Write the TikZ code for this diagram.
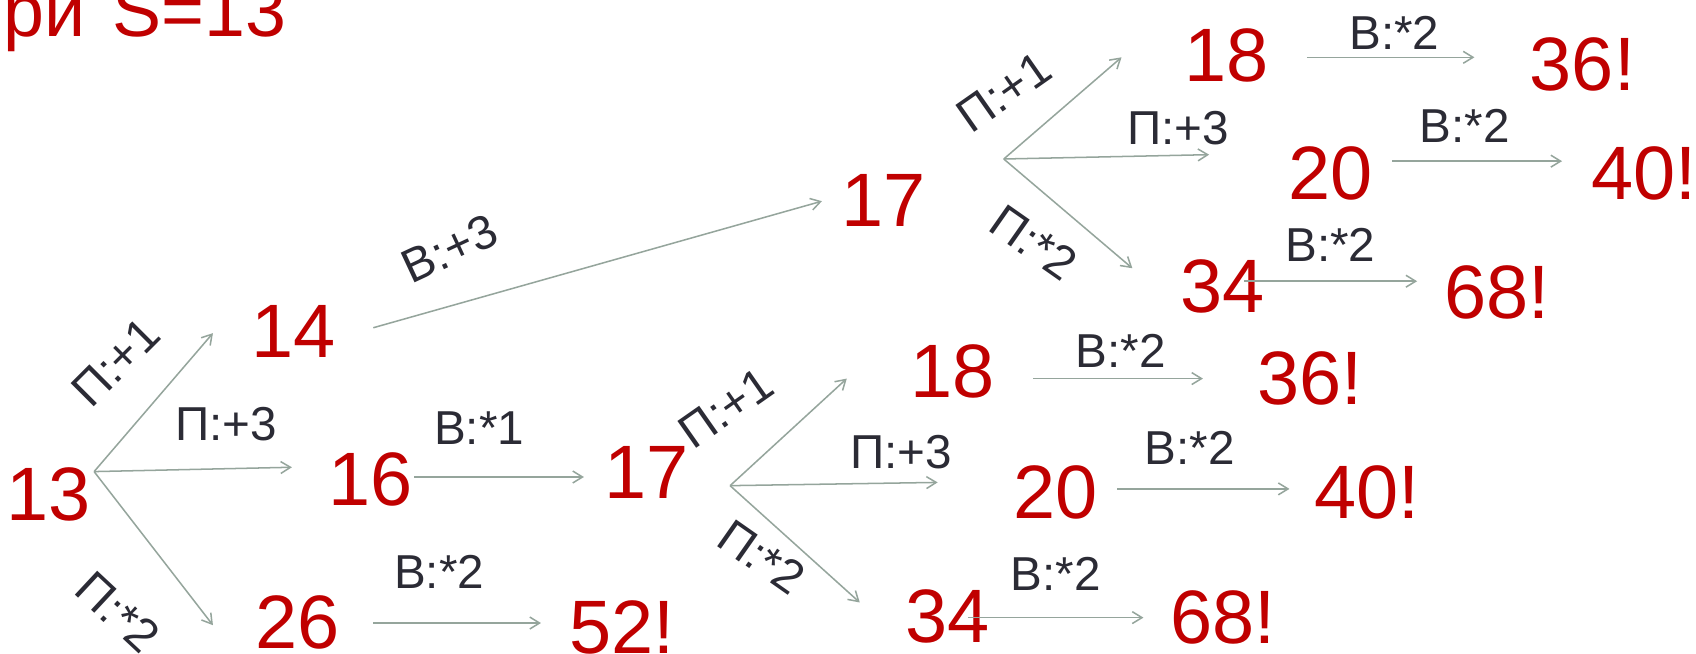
\documentclass[tikz,border=0pt]{standalone}
\usepackage{fontspec}
\setmainfont{Liberation Sans}
\definecolor{numRed}{HTML}{C00000}
\definecolor{labelInk}{HTML}{2B2B35}
\definecolor{arrowGrey}{HTML}{95A59C}
\usetikzlibrary{calc, arrows.meta}

\begin{document}
\begin{tikzpicture}[x=1pt, y=-1pt,
    num/.style={text=numRed, font=\fontsize{70}{70}\selectfont, inner sep=0pt},
    lbl/.style={text=labelInk, font=\fontsize{44}{44}\selectfont, inner sep=0pt},
    arr/.style={draw=arrowGrey, line width=1.4pt, -{Straight Barb[length=9pt, width=11pt]}}]
  \useasboundingbox[fill=white] (0,0) rectangle (1568,604);

  % title, cut at the left edge
  \node[num, anchor=base east, font=\fontsize{68}{68}\selectfont] (title) at (265,34) {при\hspace{6pt} S=13};

  % numbers
  \node[num] (n13)  at (45,457)   {13};
  \node[num] (n14)  at (271,306)  {14};
  \node[num] (n16)  at (343,443)  {16};
  \node[num] (n26)  at (275,575)  {26};
  \node[num] (n52)  at (575,580)  {52!};
  \node[num] (n17a) at (598,437)  {17};
  \node[num] (n17b) at (817,185)  {17};
  \node[num] (n18a) at (1134,51)  {18};
  \node[num] (n36a) at (1463,60)  {36!};
  \node[num] (n20a) at (1230,160) {20};
  \node[num] (n40a) at (1520,160) {40!};
  \node[num] (n34a) at (1130,265) {34};
  \node[num] (n68a) at (1384,270) {68!};
  \node[num] (n18b) at (881,343)  {18};
  \node[num] (n36b) at (1211,350) {36!};
  \node[num] (n20b) at (976,455)  {20};
  \node[num] (n40b) at (1264,455) {40!};
  \node[num] (n34b) at (876,570)  {34};
  \node[num] (n68b) at (1131,571) {68!};

  % fork points
  \coordinate (f13)  at (87,436);
  \coordinate (f17a) at (675,449);
  \coordinate (f17b) at (928,147);

  % moves from 13
  \draw[arr] (f13) -- ($(n14.west)+(-35,2)$);
  \draw[arr] (f13) -- ($(n16.west)+(-34,-11)$);
  \draw[arr] (f13) -- ($(n26.west)+(-39,3)$);
  \node[lbl, rotate=45]  (l13a) at (107,335) {П:+1};
  \node[lbl]             (l13b) at (209,392) {П:+3};
  \node[lbl, rotate=-43] (l13c) at (109,566) {П:*2};

  % answers of the second player
  \draw[arr] ($(n14.east)+(35,-3)$) -- ($(n17b.west)+(-18,1)$);
  \draw[arr] ($(n16.east)+(1,-2)$) -- ($(n17a.west)+(-19,4)$);
  \draw[arr] ($(n26.east)+(31,1)$) -- ($(n52.west)+(-26,-4)$);
  \node[lbl, rotate=25] (l14) at (416,230) {В:+3};
  \node[lbl]            (l16) at (443,396) {В:*1};
  \node[lbl]            (l26) at (406,529) {В:*2};

  % moves from the lower 17
  \draw[arr] (f17a) -- ($(n18b.west)+(-59,7)$);
  \draw[arr] (f17a) -- ($(n20b.west)+(-70,-9)$);
  \draw[arr] (f17a) -- ($(n34b.west)+(-42,-13)$);
  \node[lbl, rotate=35]  (l17aa) at (671,377) {П:+1};
  \node[lbl]             (l17ab) at (833,418) {П:+3};
  \node[lbl, rotate=-35] (l17ac) at (704,515) {П:*2};

  % moves from the upper 17
  \draw[arr] (f17b) -- ($(n18a.west)+(-58,2)$);
  \draw[arr] (f17b) -- ($(n20a.west)+(-73,-17)$);
  \draw[arr] (f17b) -- ($(n34a.west)+(-44,-17)$);
  \node[lbl, rotate=35]  (l17ba) at (928,85)  {П:+1};
  \node[lbl]             (l17bb) at (1089,118) {П:+3};
  \node[lbl, rotate=-35] (l17bc) at (956,224) {П:*2};

  % winning doublings, upper branch
  \draw[arr] ($(n18a.east)+(35,2)$) -- ($(n36a.west)+(-51,-7)$);
  \draw[arr] ($(n20a.east)+(18,-11)$) -- ($(n40a.west)+(-27,-11)$);
  \draw[arr] ($(n34a.east)+(-19,-5)$) -- ($(n68a.west)+(-25,-10)$);
  \node[lbl] (l18a) at (1289,30)  {В:*2};
  \node[lbl] (l20a) at (1354,116) {В:*2};
  \node[lbl] (l34a) at (1230,226) {В:*2};

  % winning doublings, lower branch
  \draw[arr] ($(n18b.east)+(35,7)$) -- ($(n36b.west)+(-50,0)$);
  \draw[arr] ($(n20b.east)+(18,-3)$) -- ($(n40b.west)+(-23,-3)$);
  \draw[arr] ($(n34b.east)+(-20,1)$) -- ($(n68b.west)+(-25,0)$);
  \node[lbl] (l18b) at (1036,324) {В:*2};
  \node[lbl] (l20b) at (1100,414) {В:*2};
  \node[lbl] (l34b) at (976,531)  {В:*2};
\end{tikzpicture}
\end{document}
